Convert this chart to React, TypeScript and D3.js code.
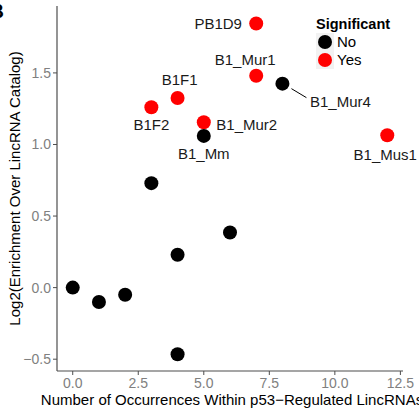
import React from 'react'
import { scaleLinear } from 'd3'

const names = ['none0', 'none1', 'none2', 'none3', 'none4a', 'none4b', 'none6', 'B1F2', 'B1F1', 'B1_Mur2', 'B1_Mm', 'PB1D9', 'B1_Mur1', 'B1_Mur4', 'B1_Mus1']
const occurrences = [0, 1, 2, 3, 4, 4, 6, 3, 4, 5, 5, 7, 7, 8, 12]
const enrichment = [0, -0.1, -0.05, 0.73, 0.23, -0.465, 0.385, 1.26, 1.325, 1.155, 1.06, 1.845, 1.48, 1.425, 1.065]
const significant = ['No', 'No', 'No', 'No', 'No', 'No', 'No', 'Yes', 'Yes', 'Yes', 'No', 'Yes', 'Yes', 'No', 'Yes']
const showLabel = [false, false, false, false, false, false, false, true, true, true, true, true, true, true, true]

// label offsets in pixels from point (ggrepel placement)
const labelDx = [0, 0, 0, 0, 0, 0, 0, 0, 2, 43, 0, -38, -11, 58, -2]
const labelDy = [0, 0, 0, 0, 0, 0, 0, 23, -13, 8, 23, 5, -11, 23, 25]

const xTicks = [0, 2.5, 5, 7.5, 10, 12.5]
const yTicks = [-0.5, 0, 0.5, 1, 1.5]
const legendKeys = ['No', 'Yes']
const colors: Record<string, string> = { No: '#000000', Yes: '#ff0000' }

const font = 'Liberation Sans, Arial, Helvetica, sans-serif'

const App = () => {
    const width = 419
    const height = 409
    const left = 57
    const right = 403
    const top = 6
    const bottom = 371

    const xScale = scaleLinear().domain([-0.6, 12.6]).range([left, right])
    const yScale = scaleLinear().domain([-0.5825, 1.9675]).range([bottom, top])

    return (
        <svg width={width} height={height} style={{ position: 'absolute', left: 0, top: 0, background: '#fff' }} fontFamily={font}>
            <text x={4} y={18} textAnchor='end' fontSize={20} fontWeight='bold'>B</text>
            {/* axes */}
            <line x1={left} x2={left} y1={top} y2={bottom} stroke='#4d4d4d' strokeWidth={1.2} />
            <line x1={left} x2={right} y1={bottom} y2={bottom} stroke='#4d4d4d' strokeWidth={1.2} />
            {xTicks.map(t => (
                <g key={'x' + t}>
                    <line x1={xScale(t)} x2={xScale(t)} y1={bottom} y2={bottom + 4} stroke='#4d4d4d' />
                    <text x={xScale(t)} y={bottom + 17} textAnchor='middle' fontSize={14} fill='#808080'>{t.toFixed(1)}</text>
                </g>
            ))}
            {yTicks.map(t => (
                <g key={'y' + t}>
                    <line x1={left - 4} x2={left} y1={yScale(t)} y2={yScale(t)} stroke='#4d4d4d' />
                    <text x={left - 6} y={yScale(t) + 5} textAnchor='end' fontSize={14} fill='#808080'>{t < 0 ? '\u2212' + Math.abs(t).toFixed(1) : t.toFixed(1)}</text>
                </g>
            ))}
            <text x={(left + right) / 2 + 2} y={405} textAnchor='middle' fontSize={15}>Number of Occurrences Within p53{'\u2212'}Regulated LincRNAs</text>
            <text transform={`translate(20,${(top + bottom) / 2}) rotate(-90)`} textAnchor='middle' fontSize={15}>Log2(Enrichment Over LincRNA Catalog)</text>

            {/* segment for repelled label */}
            <line x1={xScale(8) + 9} y1={yScale(1.425) + 5} x2={xScale(8) + 24} y2={yScale(1.425) + 14} stroke='#000' strokeWidth={1} />

            {occurrences.map((o, i) => (
                <circle key={names[i]} cx={xScale(o)} cy={yScale(enrichment[i])} r={7} fill={colors[significant[i]]} />
            ))}
            {occurrences.map((o, i) => showLabel[i] ? (
                <text key={'l' + names[i]} x={xScale(o) + labelDx[i]} y={yScale(enrichment[i]) + labelDy[i]} textAnchor='middle' fontSize={15} fill='#1a1a1a'>{names[i]}</text>
            ) : null)}

            {/* legend */}
            <text x={316} y={29} fontSize={14.5} fontWeight='bold'>Significant</text>
            {legendKeys.map((k, i) => (
                <g key={k} transform={`translate(316,${33 + i * 18})`}>
                    <rect width={18} height={18} fill='#f2f2f2' />
                    <circle cx={9} cy={9} r={7} fill={colors[k]} />
                    <text x={21} y={14} fontSize={15}>{k}</text>
                </g>
            ))}
        </svg>
    )
}

export default App
